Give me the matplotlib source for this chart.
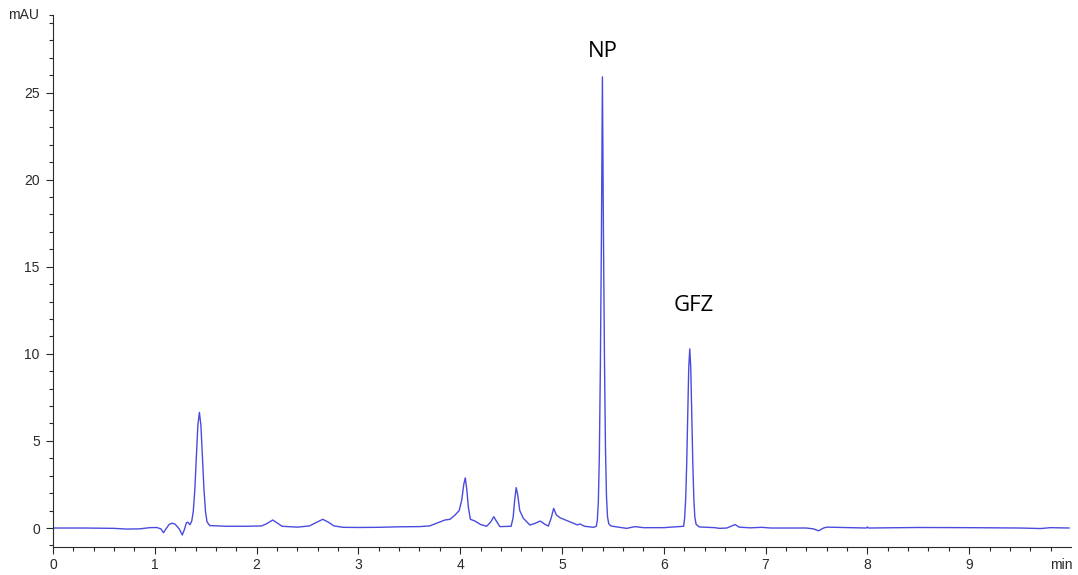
import matplotlib
matplotlib.use("Agg")
import matplotlib.pyplot as plt
from matplotlib.ticker import FixedLocator

# Chromatogram trace: retention time (min) and absorbance (mAU)
time_min = [
    0.00, 0.30, 0.60, 0.72, 0.85, 0.95, 1.02, 1.06, 1.085, 1.11, 1.14, 1.17,
    1.20, 1.24, 1.27, 1.29, 1.31, 1.325, 1.345, 1.363, 1.378, 1.393, 1.408,
    1.423, 1.438, 1.453, 1.468, 1.483, 1.498, 1.513, 1.54, 1.70, 1.90, 2.05,
    2.10, 2.158, 2.20, 2.25, 2.40, 2.52, 2.58, 2.65, 2.70, 2.76, 2.85, 3.00,
    3.20, 3.40, 3.60, 3.70, 3.78, 3.85, 3.90, 3.95, 3.99, 4.015, 4.035, 4.05,
    4.065, 4.08, 4.10, 4.145, 4.20, 4.26, 4.30, 4.33, 4.36, 4.39, 4.50, 4.52,
    4.535, 4.55, 4.565, 4.585, 4.62, 4.685, 4.74, 4.787, 4.83, 4.866, 4.895,
    4.918, 4.945, 4.98, 5.05, 5.11, 5.15, 5.18, 5.22, 5.31, 5.337, 5.347,
    5.357, 5.367, 5.377, 5.387, 5.397, 5.407, 5.417, 5.427, 5.437, 5.447,
    5.459, 5.48, 5.52, 5.635, 5.717, 5.80, 6.00, 6.195, 6.205, 6.215, 6.225,
    6.235, 6.245, 6.255, 6.265, 6.275, 6.285, 6.295, 6.305, 6.318, 6.35, 6.50,
    6.55, 6.62, 6.70, 6.74, 6.85, 6.96, 7.05, 7.40, 7.47, 7.52, 7.57, 7.60,
    7.99, 8.00, 8.01, 8.50, 9.00, 9.50, 9.70, 9.80, 9.98,
]
signal_mau = [
    0.00, 0.00, -0.02, -0.06, -0.05, 0.02, 0.03, -0.05, -0.27, -0.05, 0.20,
    0.28, 0.22, -0.05, -0.40, -0.10, 0.30, 0.33, 0.19, 0.40, 0.95, 2.20, 4.05,
    5.90, 6.64, 5.90, 4.05, 2.20, 0.95, 0.35, 0.14, 0.10, 0.10, 0.12, 0.25,
    0.46, 0.30, 0.10, 0.05, 0.12, 0.30, 0.50, 0.35, 0.12, 0.04, 0.03, 0.04,
    0.07, 0.08, 0.12, 0.30, 0.46, 0.50, 0.75, 1.00, 1.60, 2.50, 2.88, 2.20,
    1.20, 0.50, 0.40, 0.20, 0.10, 0.35, 0.65, 0.35, 0.08, 0.10, 0.60, 1.60,
    2.32, 1.90, 1.00, 0.56, 0.17, 0.28, 0.40, 0.22, 0.11, 0.60, 1.13, 0.75,
    0.59, 0.42, 0.27, 0.18, 0.23, 0.10, 0.04, 0.10, 0.45, 1.50, 4.20, 9.30,
    16.50, 25.90, 17.00, 9.80, 4.60, 1.80, 0.65, 0.25, 0.12, 0.08, -0.02,
    0.08, 0.02, 0.02, 0.10, 0.60, 1.68, 3.70, 6.54, 9.18, 10.28, 9.18, 6.54,
    3.70, 1.68, 0.61, 0.20, 0.06, 0.02, -0.02, 0.00, 0.20, 0.05, 0.01, 0.04,
    0.00, 0.00, -0.05, -0.16, 0.00, 0.05, 0.00, 0.06, 0.00, 0.03, 0.02, 0.00,
    -0.03, 0.02, 0.00,
]

# Named compounds: label, retention time, label height
peak_names = ["NP", "GFZ"]
peak_label_t = [5.398, 6.294]
peak_label_y = [27.34, 12.80]

x_major = [0, 1, 2, 3, 4, 5, 6, 7, 8, 9]
y_major = [0, 5, 10, 15, 20, 25]

TRACE = "#4a4adf"
INK = "#2a2a2a"

fig = plt.figure(figsize=(10.78, 5.75), dpi=100)
ax = fig.add_axes([53 / 1078, 28 / 575, 1018 / 1078, 532 / 575])

ax.plot(time_min, signal_mau, color=TRACE, lw=1.0, solid_joinstyle="round")

ax.set_xlim(0, 10)
ax.set_ylim(-1.09, 29.45)

for s in ("top", "right"):
    ax.spines[s].set_visible(False)
for s in ("left", "bottom"):
    ax.spines[s].set_color(INK)
    ax.spines[s].set_linewidth(0.8)

ax.xaxis.set_major_locator(FixedLocator(x_major))
ax.xaxis.set_minor_locator(FixedLocator([i * 0.2 for i in range(50)]))
ax.yaxis.set_major_locator(FixedLocator(y_major))
ax.yaxis.set_minor_locator(FixedLocator(list(range(-1, 30)) + [29.45]))

tick_font = dict(family=["Liberation Sans", "DejaVu Sans"], size=10)
ax.set_xticklabels([str(v) for v in x_major], **tick_font, color=INK)
ax.set_yticklabels([str(v) for v in y_major], **tick_font, color=INK)
ax.tick_params(which="major", direction="out", length=5, width=0.8,
               color=INK, pad=3.2)
ax.tick_params(which="minor", direction="out", length=3, width=0.8,
               color=INK)
ax.tick_params(axis="y", which="major", pad=4.5)

# axis units in the Chemstation style
ax.text(-0.0135, 29.45, "mAU", transform=ax.get_yaxis_transform(),
        ha="right", va="center", **tick_font, color=INK)
ax.text(9.9, -0.02, "min", transform=ax.get_xaxis_transform(),
        ha="center", va="top", **tick_font, color=INK)

for name, t, y in zip(peak_names, peak_label_t, peak_label_y):
    ax.text(t, y, name, ha="center", va="center",
            family=["Open Sans", "DejaVu Sans"], size=16, color="black")

fig.savefig("out.png", dpi=100)
